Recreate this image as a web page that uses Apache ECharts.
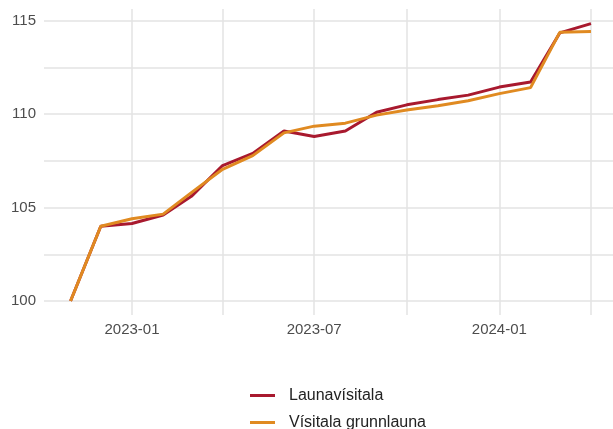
<!DOCTYPE html>
<html>
<head>
<meta charset="utf-8">
<script src="https://cdn.jsdelivr.net/npm/echarts@6/dist/echarts.min.js"></script>
<style>
  html, body { margin: 0; padding: 0; background: #fff; }
  #chart { width: 613px; height: 429px; }
</style>
</head>
<body>
<div id="chart"></div>
<script>
// Monthly index values, first day of each month
const months = [
  '2022-11', '2022-12', '2023-01', '2023-02', '2023-03', '2023-04',
  '2023-05', '2023-06', '2023-07', '2023-08', '2023-09', '2023-10',
  '2023-11', '2023-12', '2024-01', '2024-02', '2024-03', '2024-04'
];
const launavisitala = [
  100.0, 104.0, 104.15, 104.6, 105.6, 107.25,
  107.9, 109.1, 108.8, 109.1, 110.1, 110.5,
  110.78, 111.02, 111.45, 111.72, 114.35, 114.85
];
const grunnlaun = [
  100.0, 104.0, 104.4, 104.65, 105.8, 107.05,
  107.78, 109.0, 109.36, 109.52, 109.95, 110.22,
  110.45, 110.72, 111.1, 111.42, 114.38, 114.42
];
const seriesNames = ['Launavísitala', 'Vísitala grunnlauna'];
const seriesColors = ['#A8192E', '#E08A21'];

const yGridValues = [100, 102.5, 105, 107.5, 110, 112.5, 115];
const yLabelValues = [100, 105, 110, 115];
const xGridMonths = ['2023-01', '2023-04', '2023-07', '2023-10', '2024-01', '2024-04'];
const xLabelMonths = ['2023-01', '2023-07', '2024-01'];

const DAY = 86400000;
const ts = m => { const [y, mo] = m.split('-').map(Number); return Date.UTC(y, mo - 1, 1); };
const pad = n => (n < 10 ? '0' + n : '' + n);
const fmtMonth = v => { const d = new Date(v); return d.getUTCFullYear() + '-' + pad(d.getUTCMonth() + 1); };

// Time expressed as UTC milliseconds on a linear axis
const xMin = ts('2023-01') - 87.4 * DAY;
const xMax = ts('2024-04') + 21.9 * DAY;

const gridColor = '#e3e3e3';
const labelColor = '#4d4d4d';

const chart = echarts.init(document.getElementById('chart'), null, { renderer: 'canvas' });
chart.setOption({
  animation: false,
  backgroundColor: '#ffffff',
  textStyle: { fontFamily: 'Liberation Sans, Arial, sans-serif' },
  grid: { left: 44, right: 0, top: 9, bottom: 114, containLabel: false },
  xAxis: {
    type: 'value',
    min: xMin,
    max: xMax,
    axisLine: { show: false },
    axisTick: { show: false, customValues: xGridMonths.map(ts) },
    splitLine: { show: true, lineStyle: { color: gridColor, width: 1.5 } },
    axisLabel: {
      customValues: xLabelMonths.map(ts),
      formatter: v => fmtMonth(v),
      color: labelColor,
      fontSize: 15,
      margin: 7,
      hideOverlap: false,
      showMinLabel: true,
      showMaxLabel: true
    }
  },
  yAxis: {
    type: 'value',
    min: 99.25,
    max: 115.63,
    axisLine: { show: false },
    axisTick: { show: false, customValues: yGridValues },
    splitLine: { show: true, lineStyle: { color: gridColor, width: 1.5 } },
    axisLabel: {
      customValues: yLabelValues,
      color: labelColor,
      fontSize: 15,
      margin: 8
    }
  },
  legend: {
    orient: 'vertical',
    left: 250,
    top: 387,
    height: 80,
    padding: 0,
    icon: 'rect',
    itemWidth: 25,
    itemHeight: 3,
    itemGap: 10,
    textStyle: { color: '#222', fontSize: 16, lineHeight: 17, padding: [0, 0, 0, 9] },
    data: seriesNames
  },
  series: [
    {
      name: seriesNames[0],
      type: 'line',
      symbol: 'none',
      color: seriesColors[0],
      lineStyle: { width: 3, color: seriesColors[0] },
      data: months.map((m, i) => [ts(m), launavisitala[i]])
    },
    {
      name: seriesNames[1],
      type: 'line',
      symbol: 'none',
      color: seriesColors[1],
      lineStyle: { width: 3, color: seriesColors[1] },
      data: months.map((m, i) => [ts(m), grunnlaun[i]])
    }
  ]
});
</script>
</body>
</html>
